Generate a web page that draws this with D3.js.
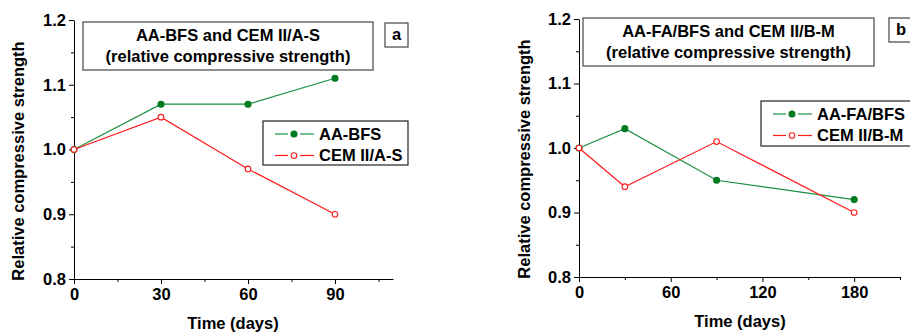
<!DOCTYPE html>
<html>
<head>
<meta charset="utf-8">
<script src="https://cdn.jsdelivr.net/npm/d3@7"></script>
<style>
  body { margin: 0; background: #fff; }
  svg { display: block; font-family: Arial, "Liberation Sans", sans-serif; }
  .axis text { font-size: 16.5px; font-weight: bold; fill: #000; }
  .axis path, .axis line { stroke: #000; }
  .lbl { font-size: 16.5px; font-weight: bold; fill: #000; }
</style>
</head>
<body>
<script>
// Panel a: AA-BFS vs CEM II/A-S
const daysA = [0, 30, 60, 90];
const aaBfs = [1.00, 1.07, 1.07, 1.11];
const cemIIAS = [1.00, 1.05, 0.97, 0.90];
const xTicksA = [0, 30, 60, 90];
const xMinorA = [15, 45, 75, 105];

// Panel b: AA-FA/BFS vs CEM II/B-M
const daysB = [0, 30, 90, 180];
const aaFaBfs = [1.00, 1.03, 0.95, 0.92];
const cemIIBM = [1.00, 0.94, 1.01, 0.90];
const xTicksB = [0, 60, 120, 180];
const xMinorB = [30, 90, 150, 210];

const yTicks = [0.8, 0.9, 1.0, 1.1, 1.2];
const yMinor = [0.85, 0.95, 1.05, 1.15];

const GREEN_LINE = '#1c8f42';
const GREEN_DOT = '#007a1e';
const RED = '#ff1a1a';

const svg = d3.select('body').append('svg')
  .attr('width', 910).attr('height', 333);

function panel(opt) {
  const x = d3.scaleLinear().domain([0, opt.xMax]).range([opt.x0, opt.x1]);
  const y = d3.scaleLinear().domain([0.8, 1.2]).range([opt.y1, opt.y0]);
  const g = svg.append('g');

  // minor ticks
  g.append('g').attr('class', 'axis')
    .attr('transform', `translate(0,${opt.y1})`)
    .call(d3.axisBottom(x).tickValues(opt.xMinor).tickSize(3).tickFormat(''))
    .call(s => s.select('.domain').remove());
  g.append('g').attr('class', 'axis')
    .attr('transform', `translate(${opt.x0},0)`)
    .call(d3.axisLeft(y).tickValues(yMinor).tickSize(3).tickFormat(''))
    .call(s => s.select('.domain').remove());

  // major axes
  g.append('g').attr('class', 'axis')
    .attr('transform', `translate(0,${opt.y1})`)
    .call(d3.axisBottom(x).tickValues(opt.xTicks).tickSizeInner(5).tickSizeOuter(0)
      .tickPadding(4).tickFormat(d3.format('d')));
  g.append('g').attr('class', 'axis')
    .attr('transform', `translate(${opt.x0},0)`)
    .call(d3.axisLeft(y).tickValues(yTicks).tickSizeInner(5).tickSizeOuter(0)
      .tickPadding(3).tickFormat(d3.format('.1f')));

  // axis titles
  g.append('text').attr('class', 'lbl')
    .attr('text-anchor', 'middle')
    .attr('transform', `translate(${opt.yLabelX},${opt.yLabelY}) rotate(-90)`)
    .attr('dy', '0.35em')
    .text('Relative compressive strength');
  g.append('text').attr('class', 'lbl')
    .attr('text-anchor', 'middle')
    .attr('x', opt.xLabelX).attr('y', opt.xLabelY)
    .text('Time (days)');

  // series
  const line = d3.line().x(d => x(d[0])).y(d => y(d[1]));
  opt.series.forEach(s => {
    const pts = opt.days.map((d, i) => [d, s.values[i]]);
    g.append('path').datum(pts)
      .attr('fill', 'none').attr('stroke', s.line).attr('stroke-width', 1.2)
      .attr('d', line);
    g.selectAll(null).data(pts).enter().append('circle')
      .attr('cx', d => x(d[0])).attr('cy', d => y(d[1]))
      .attr('r', s.filled ? 3 : 2.8)
      .attr('fill', s.filled ? s.dot : '#fff')
      .attr('stroke', s.dot).attr('stroke-width', 1.1);
  });

  // title box
  const tb = opt.titleBox;
  g.append('rect').attr('x', tb[0]).attr('y', tb[1]).attr('width', tb[2]).attr('height', tb[3])
    .attr('fill', '#fff').attr('stroke', '#444').attr('stroke-width', 1.2);
  g.append('text').attr('class', 'lbl').attr('text-anchor', 'middle')
    .attr('x', tb[0] + tb[2] / 2).attr('y', tb[1] + 19).text(opt.title);
  g.append('text').attr('class', 'lbl').attr('text-anchor', 'middle')
    .attr('x', tb[0] + tb[2] / 2).attr('y', tb[1] + 40).text('(relative compressive strength)');

  // letter box
  const lb = opt.letterBox;
  g.append('rect').attr('x', lb[0]).attr('y', lb[1]).attr('width', lb[2]).attr('height', lb[3])
    .attr('fill', '#fff').attr('stroke', '#444').attr('stroke-width', 1.2);
  g.append('text').attr('class', 'lbl').attr('x', lb[0] + 7).attr('y', lb[1] + 17).text(opt.letter);

  // legend
  const lg = opt.legend;
  g.append('rect').attr('x', lg[0]).attr('y', lg[1]).attr('width', lg[2]).attr('height', lg[3])
    .attr('fill', '#fff').attr('stroke', '#222').attr('stroke-width', 1.2);
  opt.series.forEach((s, i) => {
    const cy = lg[1] + 13 + i * 21.5;
    const lx = lg[0] + 12;
    g.append('line').attr('x1', lx).attr('x2', lx + 13).attr('y1', cy).attr('y2', cy)
      .attr('stroke', s.line).attr('stroke-width', 1.2);
    g.append('line').attr('x1', lx + 25).attr('x2', lx + 39).attr('y1', cy).attr('y2', cy)
      .attr('stroke', s.line).attr('stroke-width', 1.2);
    g.append('circle').attr('cx', lx + 19).attr('cy', cy).attr('r', s.filled ? 3 : 2.8)
      .attr('fill', s.filled ? s.dot : '#fff').attr('stroke', s.dot).attr('stroke-width', 1.1);
    g.append('text').attr('class', 'lbl').attr('x', lx + 44).attr('y', cy).attr('dy', '0.35em')
      .text(s.name);
  });
}

panel({
  x0: 74, x1: 393, xMax: 110, y0: 20, y1: 279,
  xTicks: xTicksA, xMinor: xMinorA, days: daysA,
  yLabelX: 18, yLabelY: 161, xLabelX: 233, xLabelY: 329,
  title: 'AA-BFS and CEM II/A-S', titleBox: [83, 22, 290, 48],
  letter: 'a', letterBox: [385, 23, 23, 24],
  legend: [263, 121, 145, 44],
  series: [
    { name: 'AA-BFS', values: aaBfs, line: GREEN_LINE, dot: GREEN_DOT, filled: true },
    { name: 'CEM II/A-S', values: cemIIAS, line: RED, dot: RED, filled: false }
  ]
});

panel({
  x0: 579, x1: 900, xMax: 210, y0: 19, y1: 277,
  xTicks: xTicksB, xMinor: xMinorB, days: daysB,
  yLabelX: 524, yLabelY: 159, xLabelX: 740, xLabelY: 327,
  title: 'AA-FA/BFS and CEM II/B-M', titleBox: [583, 18, 291, 48],
  letter: 'b', letterBox: [889, 18, 30, 24],
  legend: [761, 101, 160, 45],
  series: [
    { name: 'AA-FA/BFS', values: aaFaBfs, line: GREEN_LINE, dot: GREEN_DOT, filled: true },
    { name: 'CEM II/B-M', values: cemIIBM, line: RED, dot: RED, filled: false }
  ]
});
</script>
</body>
</html>
